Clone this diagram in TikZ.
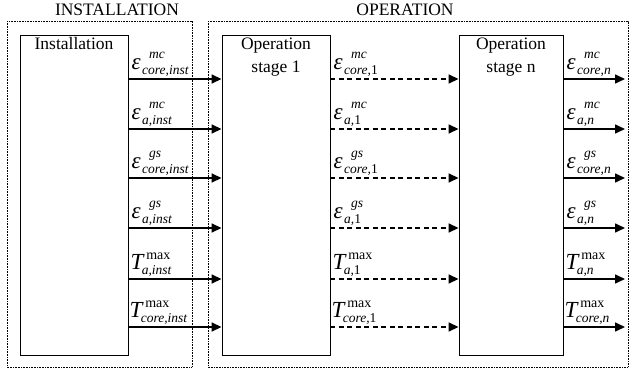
\documentclass[tikz,border=0pt]{standalone}
\usepackage{fontspec}
\setmainfont{Liberation Serif}
\usetikzlibrary{arrows.meta}
\newcommand{\SC}{\fontsize{13.5}{13.5}\selectfont\itshape}
\newcommand{\elab}[2]{\textit{ε}\hspace{1.5pt}\makebox[0pt][l]{\hspace{7pt}\raisebox{11pt}{\SC #1}}\raisebox{-5pt}{\SC #2}}
\newcommand{\tlab}[1]{\textit{T}\makebox[0pt][l]{\hspace{1.5pt}\raisebox{10pt}{\fontsize{14}{14}\selectfont max}}\hspace{-3pt}\raisebox{-5.5pt}{\SC #1}}
\begin{document}
\begin{tikzpicture}[x=1pt,y=-1pt,
  frame/.style={draw, line width=0.6pt, dash pattern=on 0.8pt off 0.8pt},
  box/.style={draw, line width=0.9pt, minimum height=320pt, inner sep=0pt},
  btxt/.style={anchor=north, inner sep=3pt, align=center, font=\fontsize{17.5}{23}\selectfont},
  ttl/.style={anchor=base, inner sep=0pt, font=\fontsize{17.5}{20}\selectfont},
  arr/.style={line width=1.6pt, -{Triangle[length=10pt,width=9pt]}},
  darr/.style={arr, dash pattern=on 5pt off 3.5pt},
  lbl/.style={anchor=base west, inner sep=0pt, font=\fontsize{23}{23}\selectfont}]
\useasboundingbox (0,0) rectangle (630,372);
% frames
\draw[frame] (7,21) rectangle (192,367);
\draw[frame] (208,21) rectangle (628,367);
\node[ttl] (tinst) at (117,16) {INSTALLATION};
\node[ttl] (top) at (405,16) {OPERATION};
% boxes
\node[box, minimum width=108pt] (inst) at (74,195) {};
\node[box, minimum width=108pt] (op1) at (276,195) {};
\node[box, minimum width=104pt] (opn) at (511,195) {};
\node[btxt] (instt) at (inst.north) {Installation};
\node[btxt] (op1t) at (op1.north) {Operation\\stage 1};
\node[btxt] (opnt) at (opn.north) {Operation\\stage n};
% levels
\coordinate (r1) at (0,79);
\coordinate (r2) at (0,129);
\coordinate (r3) at (0,178);
\coordinate (r4) at (0,228);
\coordinate (r5) at (0,279);
\coordinate (r6) at (0,327);
\coordinate (e1) at (625,79);
\coordinate (e2) at (625,129);
\coordinate (e3) at (625,178);
\coordinate (e4) at (625,228);
\coordinate (e5) at (625,279);
\coordinate (e6) at (625,327);
% arrows
\foreach \r in {1,...,6}{
  \draw[arr] (inst.east |- r\r) -- (op1.west |- r\r);
  \draw[darr] (op1.east |- r\r) -- (opn.west |- r\r);
  \draw[arr] (opn.east |- r\r) -- (e\r);
}
% labels installation
\node[lbl, xshift=3pt, yshift=10pt] (a1) at (inst.east |- r1) {\elab{mc}{core,inst}};
\node[lbl, xshift=3pt, yshift=10pt] (a2) at (inst.east |- r2) {\elab{mc}{a,inst}};
\node[lbl, xshift=3pt, yshift=10pt] (a3) at (inst.east |- r3) {\elab{gs}{core,inst}};
\node[lbl, xshift=3pt, yshift=10pt] (a4) at (inst.east |- r4) {\elab{gs}{a,inst}};
\node[lbl, xshift=2pt, yshift=10pt] (a5) at (inst.east |- r5) {\tlab{a,inst}};
\node[lbl, xshift=1pt, yshift=10pt] (a6) at (inst.east |- r6) {\tlab{core,inst}};
% labels stage 1
\node[lbl, xshift=3pt, yshift=10pt] (b1) at (op1.east |- r1) {\elab{mc}{core,\upshape 1}};
\node[lbl, xshift=3pt, yshift=10pt] (b2) at (op1.east |- r2) {\elab{mc}{a,\upshape 1}};
\node[lbl, xshift=3pt, yshift=10pt] (b3) at (op1.east |- r3) {\elab{gs}{core,\upshape 1}};
\node[lbl, xshift=3pt, yshift=10pt] (b4) at (op1.east |- r4) {\elab{gs}{a,\upshape 1}};
\node[lbl, xshift=2pt, yshift=10pt] (b5) at (op1.east |- r5) {\tlab{a,\upshape 1}};
\node[lbl, xshift=1pt, yshift=10pt] (b6) at (op1.east |- r6) {\tlab{core,\upshape 1}};
% labels stage n
\node[lbl, xshift=3pt, yshift=10pt] (c1) at (opn.east |- r1) {\elab{mc}{core,n}};
\node[lbl, xshift=3pt, yshift=10pt] (c2) at (opn.east |- r2) {\elab{mc}{a,n}};
\node[lbl, xshift=3pt, yshift=10pt] (c3) at (opn.east |- r3) {\elab{gs}{core,n}};
\node[lbl, xshift=3pt, yshift=10pt] (c4) at (opn.east |- r4) {\elab{gs}{a,n}};
\node[lbl, xshift=2pt, yshift=10pt] (c5) at (opn.east |- r5) {\tlab{a,n}};
\node[lbl, xshift=1pt, yshift=10pt] (c6) at (opn.east |- r6) {\tlab{core,n}};
\end{tikzpicture}
\end{document}
